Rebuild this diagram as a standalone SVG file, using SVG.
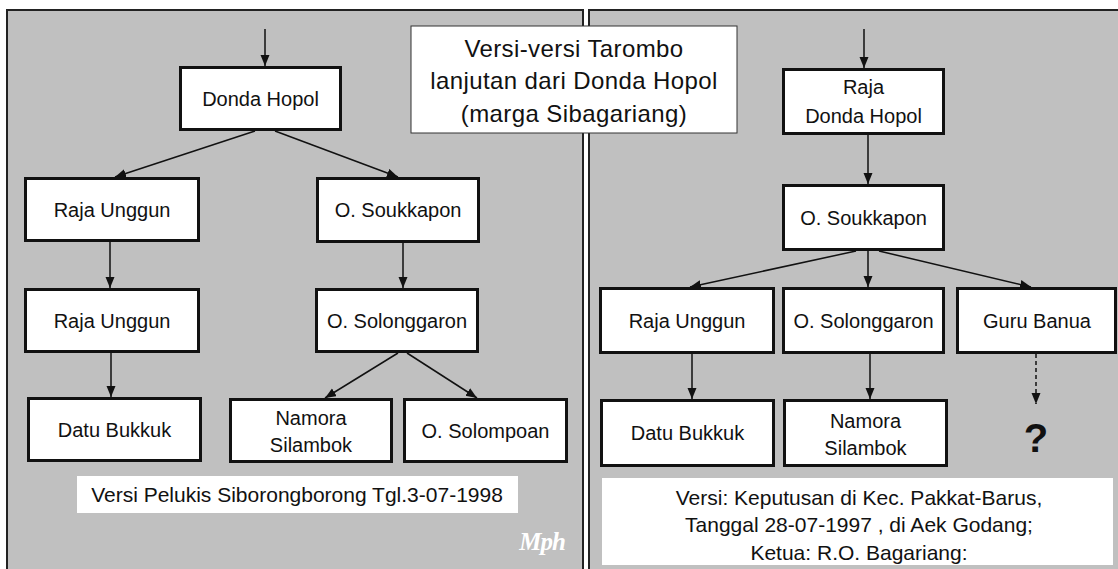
<svg xmlns="http://www.w3.org/2000/svg" width="1118" height="569" viewBox="0 0 1118 569">
<defs>
<marker id="ah" markerUnits="userSpaceOnUse" markerWidth="12" markerHeight="10" refX="11" refY="4.5" orient="auto">
<path d="M0,0 L11,4.5 L0,9 z" fill="#111"/>
</marker>
<style>
.panel{fill:#c0c0c0;stroke:#222;stroke-width:2}
.node{fill:#fff;stroke:#111;stroke-width:3}
.t{font-family:"Liberation Sans",Arial,sans-serif;font-size:20px;fill:#111;text-anchor:middle}
.c{stroke:#111;stroke-width:1.5;fill:none;marker-end:url(#ah)}
.title{font-family:"Liberation Sans",Arial,sans-serif;font-size:24px;letter-spacing:0.4px;fill:#111;text-anchor:middle}
.cap{font-family:"Liberation Sans",Arial,sans-serif;font-size:21px;fill:#111;text-anchor:middle}
</style>
</defs>
<rect x="0" y="0" width="1118" height="569" fill="#fff"/>
<rect class="panel" x="7" y="10" width="576" height="580"/>
<rect class="panel" x="589" y="10" width="560" height="580"/>

<g id="connectors">
<line class="c" x1="265" y1="29" x2="265" y2="66"/>
<line class="c" x1="255" y1="131" x2="115" y2="177"/>
<line class="c" x1="275" y1="131" x2="398" y2="177"/>
<line class="c" x1="110" y1="242" x2="110" y2="288"/>
<line class="c" x1="111" y1="353" x2="111" y2="397"/>
<line class="c" x1="403" y1="243" x2="403" y2="288"/>
<line class="c" x1="398" y1="353" x2="325" y2="398"/>
<line class="c" x1="407" y1="353" x2="477" y2="398"/>
<line class="c" x1="864" y1="29" x2="864" y2="68"/>
<line class="c" x1="868" y1="135" x2="868" y2="184"/>
<line class="c" x1="868" y1="251" x2="868" y2="287"/>
<line class="c" x1="856" y1="251" x2="690" y2="287"/>
<line class="c" x1="879" y1="251" x2="1031" y2="287"/>
<line class="c" x1="692" y1="354" x2="692" y2="399"/>
<line class="c" x1="870" y1="354" x2="870" y2="399"/>
<line class="c" x1="1036" y1="354" x2="1036" y2="404" stroke-dasharray="4,3"/>
</g>

<g id="title">
<rect x="411" y="26" width="326" height="107" fill="#fff" stroke="#333" stroke-width="1"/>
<text class="title" x="574" y="57">Versi-versi Tarombo</text>
<text class="title" x="574" y="89">lanjutan dari Donda Hopol</text>
<text class="title" x="574" y="122">(marga Sibagariang)</text>
</g>

<g id="L-donda"><rect class="node" x="180.5" y="67.5" width="160" height="62"/><text class="t" x="260.5" y="106">Donda Hopol</text></g>
<g id="L-raja1"><rect class="node" x="25.5" y="178.5" width="173" height="62"/><text class="t" x="112" y="217">Raja Unggun</text></g>
<g id="L-raja2"><rect class="node" x="25.5" y="289.5" width="173" height="62"/><text class="t" x="112" y="328">Raja Unggun</text></g>
<g id="L-datu"><rect class="node" x="28.5" y="398.5" width="172" height="62"/><text class="t" x="114.5" y="437">Datu Bukkuk</text></g>
<g id="L-souk"><rect class="node" x="317.5" y="178.5" width="161" height="63"/><text class="t" x="398" y="217">O. Soukkapon</text></g>
<g id="L-solong"><rect class="node" x="316.5" y="289.5" width="161" height="62"/><text class="t" x="397" y="328">O. Solonggaron</text></g>
<g id="L-namora"><rect class="node" x="230.5" y="399.5" width="161" height="62"/><text class="t" x="311" y="425">Namora</text><text class="t" x="311" y="452">Silambok</text></g>
<g id="L-solomp"><rect class="node" x="404.5" y="399.5" width="162" height="62"/><text class="t" x="485.5" y="438">O. Solompoan</text></g>

<g id="L-caption"><rect x="77" y="476" width="441" height="37" fill="#fff"/><text class="cap" x="297" y="502">Versi Pelukis Siborongborong Tgl.3-07-1998</text></g>
<text x="565" y="550" font-family="'Liberation Serif',serif" font-size="25" font-weight="bold" font-style="italic" fill="#fff" text-anchor="end" letter-spacing="-1">Mph</text>

<g id="R-donda"><rect class="node" x="783.5" y="69.5" width="160" height="64"/><text class="t" x="863.5" y="94">Raja</text><text class="t" x="863.5" y="123">Donda Hopol</text></g>
<g id="R-souk"><rect class="node" x="783.5" y="185.5" width="160" height="64"/><text class="t" x="863.5" y="225">O. Soukkapon</text></g>
<g id="R-raja"><rect class="node" x="600.5" y="288.5" width="173" height="64"/><text class="t" x="687" y="328">Raja Unggun</text></g>
<g id="R-solong"><rect class="node" x="783.5" y="288.5" width="160" height="64"/><text class="t" x="863.5" y="328">O. Solonggaron</text></g>
<g id="R-guru"><rect class="node" x="957.5" y="288.5" width="158" height="64"/><text class="t" x="1037" y="328">Guru Banua</text></g>
<g id="R-datu"><rect class="node" x="601.5" y="400.5" width="172" height="65"/><text class="t" x="687.5" y="440">Datu Bukkuk</text></g>
<g id="R-namora"><rect class="node" x="784.5" y="400.5" width="162" height="65"/><text class="t" x="865.5" y="428">Namora</text><text class="t" x="865.5" y="455">Silambok</text></g>
<g id="R-q"><text x="1036" y="452" font-family="'Liberation Sans',Arial,sans-serif" font-size="40" font-weight="bold" fill="#111" text-anchor="middle">?</text></g>

<g id="R-caption"><rect x="602" y="478" width="511" height="87" fill="#fff"/>
<text class="cap" x="859" y="505">Versi: Keputusan di Kec. Pakkat-Barus,</text>
<text class="cap" x="859" y="532">Tanggal 28-07-1997 , di Aek Godang;</text>
<text class="cap" x="859" y="560">Ketua: R.O. Bagariang:</text>
</g>
</svg>
